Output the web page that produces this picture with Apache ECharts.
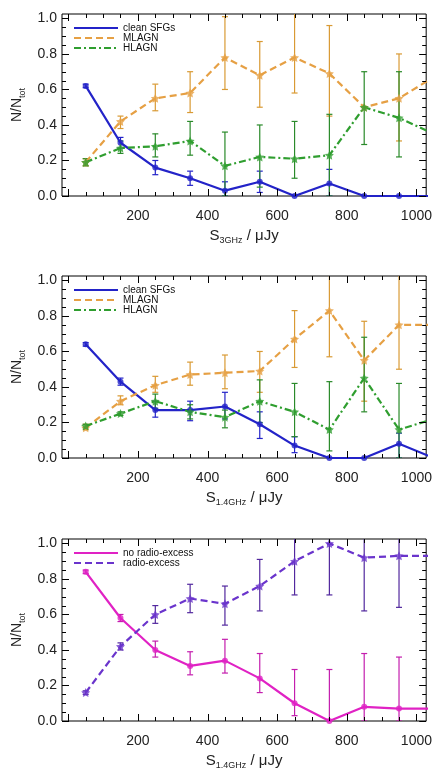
<!DOCTYPE html>
<html>
<head>
<meta charset="utf-8">
<script src="https://cdn.jsdelivr.net/npm/echarts@6/dist/echarts.min.js"></script>
<style>
  html, body { margin: 0; padding: 0; background: #fff; }
  #chart { width: 435px; height: 774px; }
</style>
</head>
<body>
<div id="chart"></div>
<script>
// Flux-density bin centres (µJy); the last bin lies just past the plotted range
const binCenters = [50, 150, 250, 350, 450, 550, 650, 750, 850, 950, 1050];

// Panel 1: S_3GHz
const sfg3     = [0.62, 0.30, 0.16, 0.10, 0.03, 0.08, 0.00, 0.07, 0.00, 0.00, 0.00];
const sfg3Lo   = [0.61, 0.27, 0.12, 0.06, 0.00, 0.02, null, 0.00, null, null, null];
const sfg3Hi   = [0.63, 0.33, 0.20, 0.14, 0.08, 0.14, null, 0.15, null, null, null];
const mlagn3   = [0.19, 0.42, 0.55, 0.58, 0.78, 0.68, 0.78, 0.69, 0.50, 0.55, 0.67];
const mlagn3Lo = [0.17, 0.38, 0.48, 0.47, 0.60, 0.50, 0.58, 0.45, null, 0.31, null];
const mlagn3Hi = [0.21, 0.45, 0.63, 0.70, 1.01, 0.87, 1.05, 0.96, null, 0.80, null];
const hlagn3   = [0.19, 0.27, 0.28, 0.31, 0.17, 0.22, 0.21, 0.23, 0.50, 0.44, 0.35];
const hlagn3Lo = [0.17, 0.24, 0.22, 0.23, 0.00, 0.05, 0.10, 0.00, 0.29, 0.22, null];
const hlagn3Hi = [0.21, 0.31, 0.35, 0.42, 0.36, 0.40, 0.42, 0.46, 0.70, 0.70, null];

// Panel 2: S_1.4GHz
const sfg14     = [0.64, 0.43, 0.27, 0.27, 0.29, 0.19, 0.07, 0.00, 0.00, 0.08, 0.00];
const sfg14Lo   = [0.63, 0.41, 0.23, 0.21, 0.22, 0.11, 0.03, null, null, 0.00, null];
const sfg14Hi   = [0.65, 0.45, 0.32, 0.32, 0.37, 0.26, 0.12, null, null, 0.14, null];
const mlagn14   = [0.17, 0.32, 0.41, 0.47, 0.48, 0.49, 0.67, 0.83, 0.55, 0.75, 0.75];
const mlagn14Lo = [0.16, 0.30, 0.37, 0.41, 0.39, 0.37, 0.51, 0.57, 0.32, 0.50, null];
const mlagn14Hi = [0.19, 0.35, 0.46, 0.54, 0.58, 0.60, 0.83, 1.05, 0.77, 1.05, null];
const hlagn14   = [0.18, 0.25, 0.32, 0.26, 0.23, 0.32, 0.26, 0.16, 0.45, 0.16, 0.22];
const hlagn14Lo = [0.17, 0.24, 0.28, 0.22, 0.17, 0.20, 0.12, 0.04, 0.26, 0.00, null];
const hlagn14Hi = [0.19, 0.26, 0.36, 0.30, 0.27, 0.44, 0.42, 0.43, 0.68, 0.42, null];

// Panel 3: radio-excess split, S_1.4GHz
const noExcess   = [0.84, 0.58, 0.40, 0.31, 0.34, 0.24, 0.10, 0.00, 0.08, 0.07, 0.07];
const noExcessLo = [0.83, 0.56, 0.36, 0.26, 0.27, 0.16, 0.03, 0.00, 0.00, 0.00, null];
const noExcessHi = [0.85, 0.60, 0.45, 0.39, 0.46, 0.38, 0.29, 0.29, 0.38, 0.36, null];
const excess     = [0.16, 0.42, 0.60, 0.69, 0.66, 0.76, 0.90, 1.00, 0.92, 0.93, 0.93];
const excessLo   = [0.15, 0.40, 0.55, 0.61, 0.54, 0.62, 0.71, 0.71, 0.62, 0.64, null];
const excessHi   = [0.17, 0.44, 0.65, 0.77, 0.76, 0.91, 1.05, 1.05, 1.05, 1.05, null];

// Axis ticks and labels
const xMajorTicks = [0, 200, 400, 600, 800, 1000];
const xMinorTicks = [50, 100, 150, 250, 300, 350, 450, 500, 550, 650, 700, 750, 850, 900, 950];
const xTickLabels = [200, 400, 600, 800, 1000];
const yMajorTicks = [0, 0.2, 0.4, 0.6, 0.8, 1.0];
const yMinorTicks = [0.05, 0.1, 0.15, 0.25, 0.3, 0.35, 0.45, 0.5, 0.55, 0.65, 0.7, 0.75, 0.85, 0.9, 0.95];
const xNames = ['3GHz', '1.4GHz', '1.4GHz'];

const X_MIN = -18, X_MAX = 1028, Y_MIN = 0, Y_MAX = 1.025;
const MAJOR_LEN = 7, MINOR_LEN = 4;
const FONT = '"Liberation Sans", Arial, Helvetica, sans-serif';
const gridTops = [14, 276, 539];
const GRID_H = 182;

const panels = [
  [
    { name: 'clean SFGs', v: sfg3, lo: sfg3Lo, hi: sfg3Hi, color: '#2323c8', err: '#2323c8', dash: 'solid', sym: 'circle', symSize: 6 },
    { name: 'MLAGN', v: mlagn3, lo: mlagn3Lo, hi: mlagn3Hi, color: '#e6a044', err: '#d99a34', dash: [7, 4], sym: 'star', symSize: 9 },
    { name: 'HLAGN', v: hlagn3, lo: hlagn3Lo, hi: hlagn3Hi, color: '#2f9e2f', err: '#2a8a2a', dash: [7, 3, 2, 3], sym: 'star', symSize: 9 }
  ],
  [
    { name: 'clean SFGs', v: sfg14, lo: sfg14Lo, hi: sfg14Hi, color: '#2323c8', err: '#2323c8', dash: 'solid', sym: 'circle', symSize: 6 },
    { name: 'MLAGN', v: mlagn14, lo: mlagn14Lo, hi: mlagn14Hi, color: '#e6a044', err: '#d99a34', dash: [7, 4], sym: 'star', symSize: 9 },
    { name: 'HLAGN', v: hlagn14, lo: hlagn14Lo, hi: hlagn14Hi, color: '#2f9e2f', err: '#2a8a2a', dash: [7, 3, 2, 3], sym: 'star', symSize: 9 }
  ],
  [
    { name: 'no radio-excess', v: noExcess, lo: noExcessLo, hi: noExcessHi, color: '#e022c4', err: '#c41eae', dash: 'solid', sym: 'circle', symSize: 6 },
    { name: 'radio-excess', v: excess, lo: excessLo, hi: excessHi, color: '#6a34cc', err: '#52289e', dash: [7, 4], sym: 'star', symSize: 9 }
  ]
];

const STAR = 'path://M0,-10L2.9,-4L9.5,-3.1L4.8,1.5L5.9,8.1L0,5L-5.9,8.1L-4.8,1.5L-9.5,-3.1L-2.9,-4Z';
const TICK_STYLE = { stroke: '#000', lineWidth: 1 };

function errorBarItem(params, api) {
  const x = api.value(0);
  const pLo = api.coord([x, api.value(1)]);
  const pHi = api.coord([x, api.value(2)]);
  const cap = 3;
  const style = { stroke: api.visual('color'), lineWidth: 1.2 };
  return {
    type: 'group',
    children: [
      { type: 'line', shape: { x1: pLo[0], y1: pLo[1], x2: pHi[0], y2: pHi[1] }, style },
      { type: 'line', shape: { x1: pLo[0] - cap, y1: pLo[1], x2: pLo[0] + cap, y2: pLo[1] }, style },
      { type: 'line', shape: { x1: pHi[0] - cap, y1: pHi[1], x2: pHi[0] + cap, y2: pHi[1] }, style }
    ]
  };
}

// Inward tick marks on the bottom and top edges of the frame
function xTickItem(params, api) {
  const cs = params.coordSys;
  const px = Math.round(api.coord([api.value(0), 0])[0]) + 0.5;
  const len = api.value(1) === 1 ? MAJOR_LEN : MINOR_LEN;
  const bottom = cs.y + cs.height;
  return {
    type: 'group',
    children: [
      { type: 'line', shape: { x1: px, y1: bottom, x2: px, y2: bottom - len }, style: TICK_STYLE },
      { type: 'line', shape: { x1: px, y1: cs.y, x2: px, y2: cs.y + len }, style: TICK_STYLE }
    ]
  };
}

// Inward tick marks on the left and right edges of the frame
function yTickItem(params, api) {
  const cs = params.coordSys;
  const py = Math.round(api.coord([0, api.value(0)])[1]) + 0.5;
  const len = api.value(1) === 1 ? MAJOR_LEN : MINOR_LEN;
  const right = cs.x + cs.width;
  return {
    type: 'group',
    children: [
      { type: 'line', shape: { x1: cs.x, y1: py, x2: cs.x + len, y2: py }, style: TICK_STYLE },
      { type: 'line', shape: { x1: right, y1: py, x2: right - len, y2: py }, style: TICK_STYLE }
    ]
  };
}

const grids = [], xAxes = [], yAxes = [], legends = [], series = [];

gridTops.forEach((top, g) => {
  grids.push({ left: 62, right: 5, top: top, height: GRID_H, show: true, borderColor: '#000', borderWidth: 1, backgroundColor: 'transparent' });

  xAxes.push({
    type: 'value', gridIndex: g, min: X_MIN, max: X_MAX, position: 'bottom',
    splitLine: { show: false }, axisLine: { show: false, onZero: false }, axisTick: { show: false },
    axisLabel: { customValues: xTickLabels, formatter: v => String(v), fontFamily: FONT, fontSize: 14, color: '#222', margin: 13 },
    name: '{s|S}{sub|' + xNames[g] + '}{s| / μJy}',
    nameLocation: 'middle', nameGap: 31,
    nameTextStyle: { rich: {
      s: { fontFamily: FONT, fontSize: 15, color: '#222', lineHeight: 18, verticalAlign: 'middle' },
      sub: { fontFamily: FONT, fontSize: 9, color: '#222', lineHeight: 10, verticalAlign: 'bottom' }
    } }
  });

  yAxes.push({
    type: 'value', gridIndex: g, min: Y_MIN, max: Y_MAX, position: 'left',
    splitLine: { show: false }, axisLine: { show: false, onZero: false }, axisTick: { show: false },
    axisLabel: { customValues: yMajorTicks, formatter: v => v.toFixed(1), fontFamily: FONT, fontSize: 14, color: '#222', margin: 5 },
    name: '{s|N/N}{sub|tot}',
    nameLocation: 'middle', nameRotate: 90, nameGap: 26,
    nameTextStyle: { rich: {
      s: { fontFamily: FONT, fontSize: 14, color: '#222', lineHeight: 18, verticalAlign: 'middle' },
      sub: { fontFamily: FONT, fontSize: 9, color: '#222', lineHeight: 10, verticalAlign: 'bottom' }
    } }
  });

  legends.push({
    orient: 'vertical', left: 73, top: top + 9, padding: 0, itemWidth: 44, itemHeight: 10, itemGap: 0,
    data: panels[g].map(s => s.name),
    itemStyle: { opacity: 0 },
    textStyle: { fontFamily: FONT, fontSize: 10, color: '#111', lineHeight: 10 },
    selectedMode: false
  });

  // frame ticks: 1 = major, 0 = minor
  series.push({
    type: 'custom', xAxisIndex: g, yAxisIndex: g, clip: false, silent: true, z: 5,
    renderItem: xTickItem, encode: { x: 0 },
    data: xMajorTicks.map(v => [v, 1]).concat(xMinorTicks.map(v => [v, 0]))
  });
  series.push({
    type: 'custom', xAxisIndex: g, yAxisIndex: g, clip: false, silent: true, z: 5,
    renderItem: yTickItem, encode: { y: 0 },
    data: yMajorTicks.map(v => [v, 1]).concat(yMinorTicks.map(v => [v, 0]))
  });

  panels[g].forEach(s => {
    const errData = [];
    binCenters.forEach((x, i) => {
      if (s.lo[i] !== null && s.hi[i] !== null) errData.push([x, s.lo[i], s.hi[i]]);
    });
    series.push({
      type: 'custom', xAxisIndex: g, yAxisIndex: g, clip: true, silent: true,
      renderItem: errorBarItem, itemStyle: { color: s.err },
      encode: { x: 0, y: [1, 2] }, data: errData, z: 2
    });
    series.push({
      name: s.name, type: 'line', xAxisIndex: g, yAxisIndex: g, clip: true, silent: true,
      symbol: 'none', color: s.color,
      lineStyle: { color: s.color, width: 2.2, type: s.dash },
      data: binCenters.map((x, i) => [x, s.v[i]]), z: 3
    });
    series.push({
      type: 'scatter', xAxisIndex: g, yAxisIndex: g, clip: true, silent: true,
      symbol: s.sym === 'star' ? STAR : 'circle', symbolSize: s.symSize,
      itemStyle: { color: s.color },
      data: binCenters.map((x, i) => [x, s.v[i]]), z: 4
    });
  });
});

const chart = echarts.init(document.getElementById('chart'), null, { renderer: 'canvas' });
chart.setOption({
  animation: false,
  backgroundColor: '#fff',
  grid: grids,
  xAxis: xAxes,
  yAxis: yAxes,
  legend: legends,
  series: series
});
</script>
</body>
</html>
